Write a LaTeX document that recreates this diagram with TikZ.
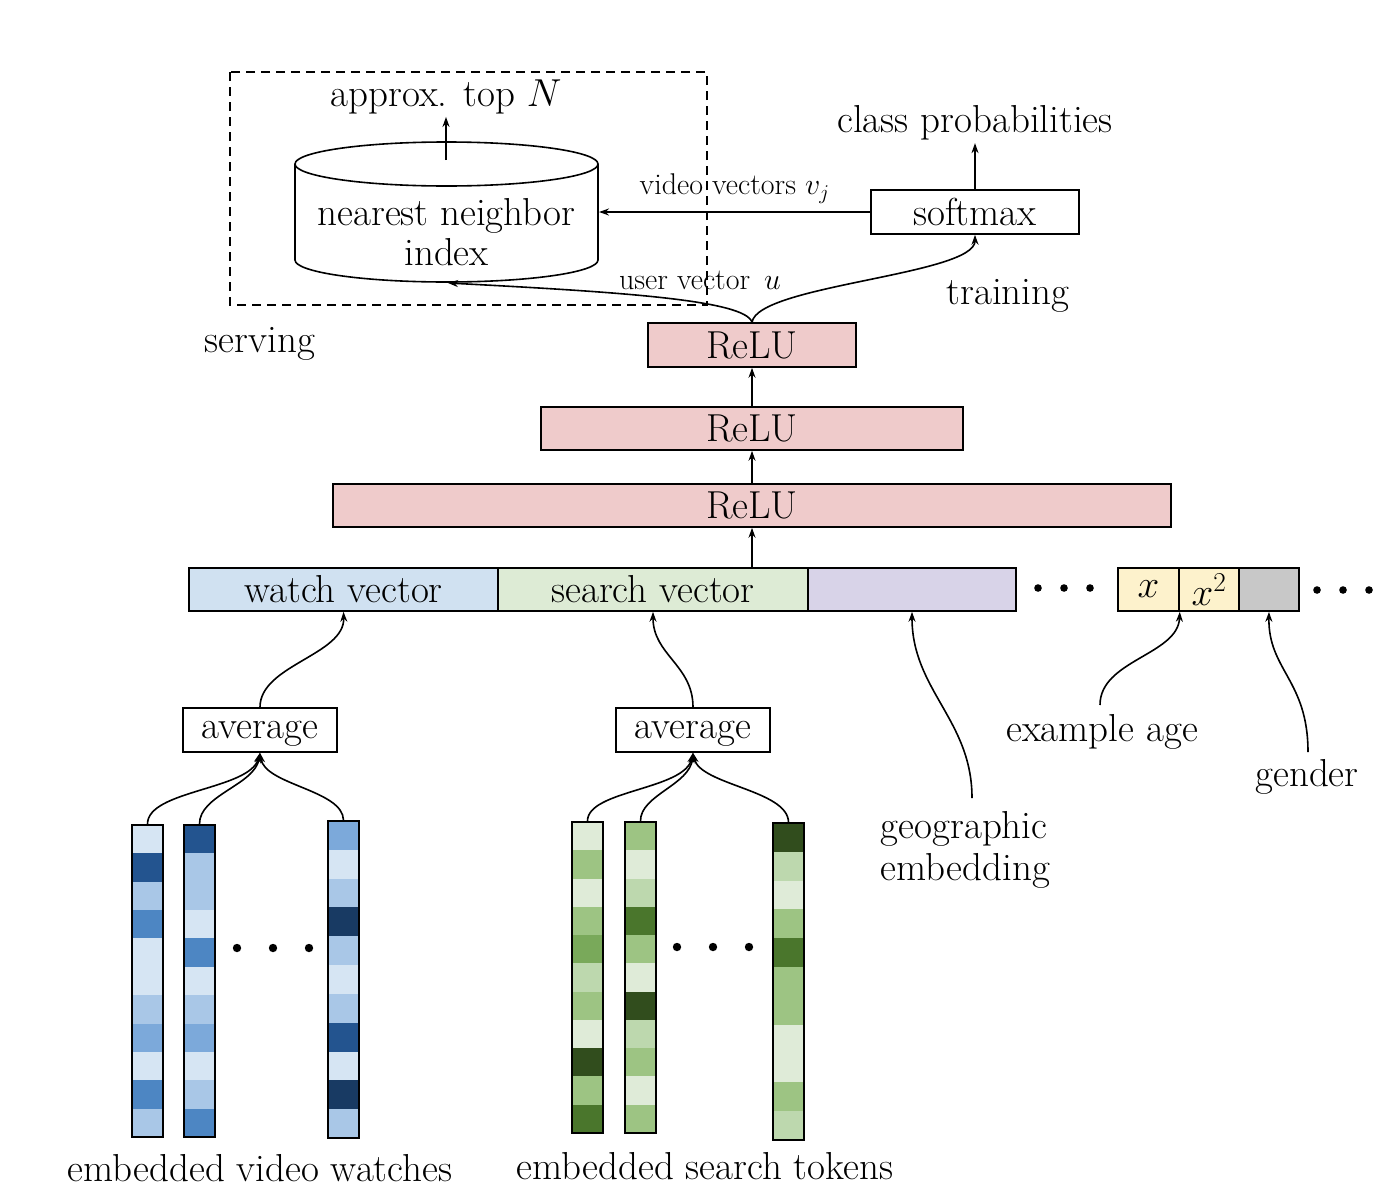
\RequirePackage{fix-cm}
\documentclass[tikz,border=0pt]{standalone}
\usetikzlibrary{arrows.meta}
\definecolor{bA}{HTML}{D6E5F3}
\definecolor{bB}{HTML}{A9C7E7}
\definecolor{bC}{HTML}{7CA9DA}
\definecolor{bD}{HTML}{4D86C3}
\definecolor{bE}{HTML}{23548F}
\definecolor{bF}{HTML}{183A63}
\definecolor{gA}{HTML}{DFEBD8}
\definecolor{gB}{HTML}{BDD8AE}
\definecolor{gC}{HTML}{9DC483}
\definecolor{gD}{HTML}{79A95A}
\definecolor{gE}{HTML}{4A762C}
\definecolor{gF}{HTML}{314D1D}
\definecolor{reluc}{HTML}{EFCBCB}
\definecolor{watchc}{HTML}{D0E1F1}
\definecolor{searchc}{HTML}{DDEBD5}
\definecolor{geoc}{HTML}{D8D3E8}
\definecolor{agec}{HTML}{FDF2CC}
\definecolor{genc}{HTML}{C8C8C8}
\begin{document}
\begin{tikzpicture}[x=1pt,y=-1pt,line width=1.6pt,
  >={Stealth[length=10pt,width=7pt]},
  lbl/.style={font=\fontsize{39}{46}\selectfont, inner sep=0pt},
  small/.style={font=\fontsize{30}{35}\selectfont, inner sep=0pt},
  box/.style={draw, lbl, minimum height=44pt},
  colbox/.style={draw, minimum width=31pt, inner sep=0pt},
  dot/.style={fill=black, draw=none}]
\useasboundingbox (0,0) rectangle (1400,1202);

% serving region
\draw[dashed, dash pattern=on 9pt off 6pt] (230,72) rectangle (707,305);
\node[lbl] (serving) at (260,344) {serving};

% cylinder
\fill[white] (295,164) -- (295,260) arc[start angle=180,end angle=360,x radius=151.5pt,y radius=22pt] -- (598,164) -- cycle;
\draw (295,164) -- (295,260) arc[start angle=180,end angle=360,x radius=151.5pt,y radius=22pt] -- (598,164);
\draw (446.5,164) ellipse[x radius=151.5pt,y radius=22pt];
\node[lbl, align=center] (nn) at (446.5,232) {nearest neighbor\\[-6pt]index};
\coordinate (cyltop) at (446,160);
\coordinate (cylbot) at (448,283);
\coordinate (cylright) at (599,212);
\node[lbl] (topn) at (446,97) {approx. top $N$};
\draw[->] (cyltop) -- ([yshift=-2pt]topn.south);

% softmax
\node[box, minimum width=208pt] (softmax) at (975,212) {softmax};
\node[lbl] (classp) at (975,123) {class probabilities};
\draw[->] (softmax.north) -- ([yshift=-2pt]classp.south);
\draw[->] (softmax.west) -- (cylright) node[small, midway, above=8pt] {video vectors $v_j$};
\node[small] (uvec) at (700,280) {user vector \,$u$};
\node[lbl] (training) at (1008,296) {training};

% ReLU layers
\node[box, fill=reluc, minimum width=208pt, minimum height=44pt] (relu1) at (752,345) {ReLU};
\node[box, fill=reluc, minimum width=422pt, minimum height=43pt] (relu2) at (752,428.5) {ReLU};
\node[box, fill=reluc, minimum width=838pt, minimum height=43pt] (relu3) at (752,505.5) {ReLU};
\draw[->] (relu1.north) .. controls (745,300) and (620,292) .. (cylbot);
\draw[->] (relu1.north) .. controls (758,285) and (975,275) .. (softmax.south);
\draw[->] (relu2.north) -- (relu1.south);
\draw[->] (relu3.north) -- (relu2.south);

% feature row
\node[box, fill=watchc, minimum width=309pt, minimum height=43pt] (watch) at (343.5,589.5) {watch vector};
\node[box, fill=searchc, minimum width=310pt, minimum height=43pt] (search) at (653,589.5) {search vector};
\node[box, fill=geoc, minimum width=208pt, minimum height=43pt] (geo) at (912,589.5) {};
\node[box, fill=agec, minimum width=61pt, minimum height=43pt] (xa) at (1148.5,589.5) {$x$};
\node[box, fill=agec, minimum width=60pt, minimum height=43pt] (xb) at (1209,589.5) {$x^2$};
\node[box, fill=genc, minimum width=60pt, minimum height=43pt] (gen) at (1269,589.5) {};
\draw[->] (relu3.south |- search.north) -- (relu3.south);
\foreach \x in {1038,1064,1090} \fill (\x,588) circle (3.8pt);
\foreach \x in {1317,1343,1369} \fill (\x,590) circle (3.8pt);

% side features
\node[lbl, align=left, anchor=west] (geotxt) at (880,850) {geographic\\[-4pt]embedding};
\coordinate (geostart) at (972,798);
\draw[->] (geostart) .. controls (972,720) and (912,690) .. (geo.south);
\node[lbl] (agetxt) at (1102,732) {example age};
\coordinate (agestart) at (1100,705);
\draw[->] (agestart) .. controls (1100,660) and (1178,655) .. (xa.south east);
\node[lbl] (gentxt) at (1307,777) {gender};
\coordinate (genstart) at (1308,752);
\draw[->] (genstart) .. controls (1308,680) and (1268,670) .. (gen.south);

% averages
\node[box, minimum width=154pt, text height=17pt, text depth=0pt] (avg1) at (260,730) {average};
\node[box, minimum width=154pt, text height=17pt, text depth=0pt] (avg2) at (693,730) {average};
\draw[->] (avg1.north) .. controls (260,665) and (345,655) .. (watch.south);
\draw[->] (avg2.north) .. controls (693,665) and (653,655) .. (search.south);

% columns
\def\drawcol#1#2#3#4#5{% name, xleft, ytop, ybottom, colour list
  \pgfmathsetmacro{\ch}{(#4-#3)/11}
  \foreach \c [count=\i from 0] in {#5} {
    \fill[\c, line width=0pt] (#2,{#3+\i*\ch}) rectangle ({#2+31},{#3+(\i+1)*\ch});
  }
  \node[colbox, minimum height={#4-#3}] (#1) at ({#2+15.5},{(#3+#4)/2}) {};
}
\drawcol{wa}{132}{825}{1137}{bA,bE,bB,bD,bA,bA,bB,bC,bA,bD,bB}
\drawcol{wb}{184}{825}{1137}{bE,bB,bB,bA,bD,bA,bB,bC,bA,bB,bD}
\drawcol{wc}{328}{821}{1138}{bC,bA,bB,bF,bB,bA,bB,bE,bA,bF,bB}
\drawcol{sa}{572}{822}{1133}{gA,gC,gA,gC,gD,gB,gC,gA,gF,gC,gE}
\drawcol{sb}{625}{822}{1133}{gC,gA,gB,gE,gC,gA,gF,gB,gC,gA,gC}
\drawcol{sc}{773}{823}{1140}{gF,gB,gA,gC,gE,gC,gC,gA,gA,gC,gB}
\foreach \x in {237,273,309} \fill (\x,948) circle (4.2pt);
\foreach \x in {677,713,749} \fill (\x,947) circle (4.2pt);

\draw[->] (wa.north) .. controls (147,790) and (250,790) .. (avg1.south);
\draw[->] (wb.north) .. controls (199,795) and (255,785) .. (avg1.south);
\draw[->] (wc.north) .. controls (343,790) and (265,785) .. (avg1.south);
\draw[->] (sa.north) .. controls (587,790) and (685,790) .. (avg2.south);
\draw[->] (sb.north) .. controls (640,795) and (690,785) .. (avg2.south);
\draw[->] (sc.north) .. controls (788,790) and (700,785) .. (avg2.south);

\node[lbl] (vwtxt) at (260,1168) {embedded video watches};
\node[lbl] (sttxt) at (705,1166) {embedded search tokens};
\end{tikzpicture}
\end{document}
